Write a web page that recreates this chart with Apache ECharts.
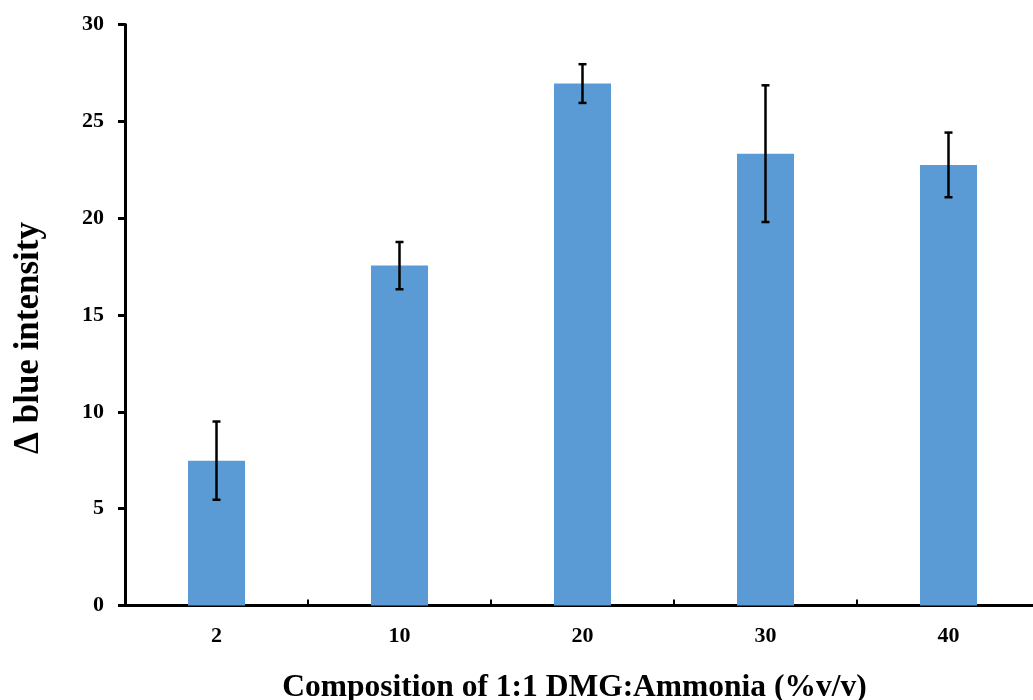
<!DOCTYPE html>
<html>
<head>
<meta charset="utf-8">
<script src="https://cdn.jsdelivr.net/npm/echarts@6/dist/echarts.min.js"></script>
<style>
  html, body { margin: 0; padding: 0; background: #fff; }
  #chart { width: 1033px; height: 700px; }
</style>
</head>
<body>
<div id="chart"></div>
<script>
// Composition of 1:1 DMG:Ammonia (% v/v) vs change in blue intensity
const categories = ['2', '10', '20', '30', '40'];
const meanValues = [7.48, 17.55, 26.95, 23.33, 22.75];
const errorValues = [2.02, 1.22, 1.0, 3.53, 1.67];
const yTicks = [0, 5, 10, 15, 20, 25, 30];

const FONT = '"Liberation Serif", "Times New Roman", serif';
const chart = echarts.init(document.getElementById('chart'));

const errorData = categories.map((c, i) => [i, meanValues[i] - errorValues[i], meanValues[i] + errorValues[i]]);

chart.setOption({
  animation: false,
  backgroundColor: '#ffffff',
  grid: { left: 125, top: 24.5, width: 915, bottom: 94.5, containLabel: false, outerBoundsMode: 'none' },
  xAxis: {
    type: 'category',
    data: categories,
    name: 'Composition of 1:1 DMG:Ammonia (%v/v)',
    nameLocation: 'middle',
    nameGap: 66,
    nameTextStyle: { fontFamily: FONT, fontWeight: 'bold', fontSize: 31.5, color: '#000', padding: [0, 16, 0, 0] },
    axisLine: { lineStyle: { color: '#000', width: 3 } },
    axisTick: { show: true, inside: true, length: 6, lineStyle: { color: '#000', width: 2 } },
    axisLabel: { fontFamily: FONT, fontWeight: 'bold', fontSize: 22, color: '#000', margin: 20 },
    splitLine: { show: false }
  },
  yAxis: {
    type: 'value',
    min: yTicks[0],
    max: yTicks[yTicks.length - 1],
    interval: 5,
    name: 'Δ blue intensity',
    nameLocation: 'middle',
    nameGap: 79,
    nameTextStyle: { fontFamily: FONT, fontWeight: 'bold', fontSize: 35, color: '#000', padding: [0, 46, 0, 0] },
    axisLine: { show: true, lineStyle: { color: '#000', width: 3 } },
    axisTick: { show: true, length: 7, lineStyle: { color: '#000', width: 3 } },
    axisLabel: { fontFamily: FONT, fontWeight: 'bold', fontSize: 22, color: '#000', margin: 21 },
    splitLine: { show: false }
  },
  series: [
    {
      type: 'bar',
      data: meanValues,
      barWidth: 57,
      itemStyle: { color: '#5B9BD5' }
    },
    {
      type: 'custom',
      data: errorData,
      z: 10,
      renderItem: function (params, api) {
        const x = api.value(0);
        const low = api.coord([x, api.value(1)]);
        const high = api.coord([x, api.value(2)]);
        const cap = 4;
        const style = { stroke: '#000', lineWidth: 2.5 };
        return {
          type: 'group',
          children: [
            { type: 'line', shape: { x1: low[0], y1: low[1], x2: high[0], y2: high[1] }, style: style },
            { type: 'line', shape: { x1: high[0] - cap, y1: high[1], x2: high[0] + cap, y2: high[1] }, style: style },
            { type: 'line', shape: { x1: low[0] - cap, y1: low[1], x2: low[0] + cap, y2: low[1] }, style: style }
          ]
        };
      }
    }
  ]
});
</script>
</body>
</html>
